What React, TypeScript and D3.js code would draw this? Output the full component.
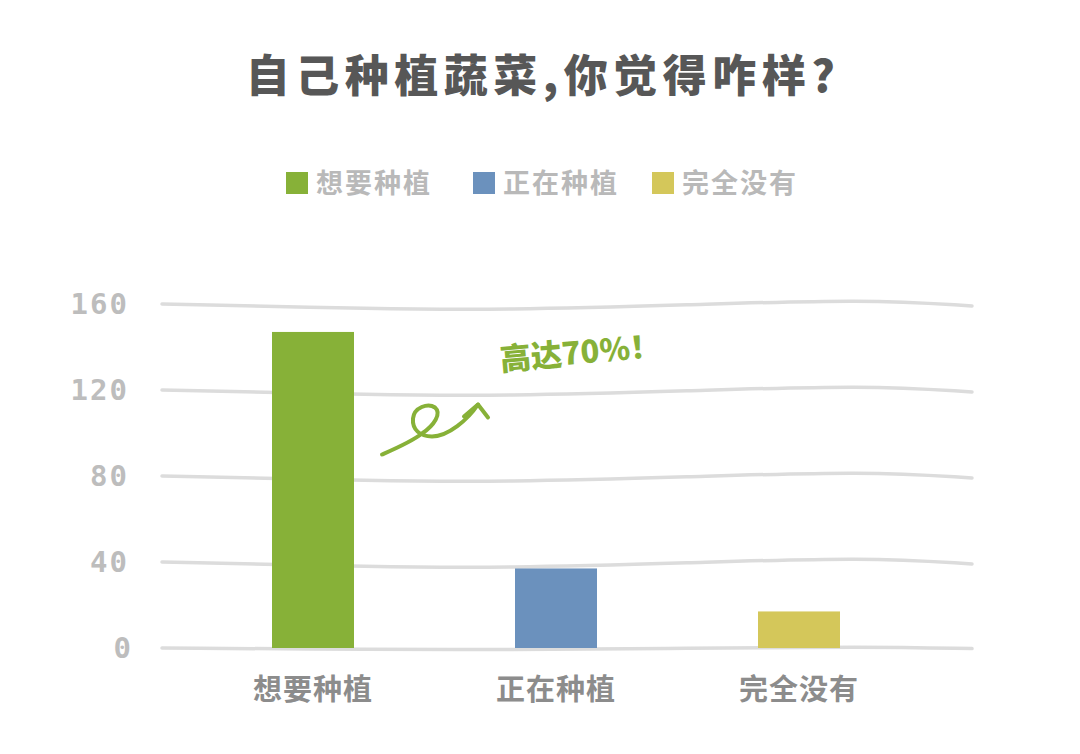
import * as d3 from 'd3';

const title = '自己种植蔬菜,你觉得咋样?';
const categories = ['想要种植', '正在种植', '完全没有'];
const counts = [147, 37, 17];
const colors = ['#87b138', '#6b91bd', '#d4c75a'];
const yTicks = [0, 40, 80, 120, 160];
const note = '高达70%！';

// hand-drawn wobble of each gridline: [fraction along width, vertical offset]
const wobble: [number, number][] = [
  [0, 0], [0.27, 5], [0.42, 6], [0.65, 1], [0.87, -5], [1, 2],
];

const W = 1080;
const H = 754;
const margin = { top: 304, right: 108, bottom: 106, left: 162 };

const App = () => {
  const plotW = W - margin.left - margin.right;

  const x = d3.scalePoint<string>()
    .domain(categories)
    .range([313, 799]);

  const y = d3.scaleLinear()
    .domain([0, 160])
    .range([H - margin.bottom, margin.top]);

  const barW = 82;

  const line = d3.line<[number, number]>()
    .x(d => d[0])
    .y(d => d[1])
    .curve(d3.curveBasis);

  const gridPath = (v: number) => {
    const k = v === 0 ? 0.3 : 1;
    return line(wobble.map(([f, o]) => [margin.left + f * plotW, y(v) + o * k]));
  };

  // annotation anchored to the first bar
  const ax = (x(categories[0]) ?? 0) + barW / 2 + 28;
  const ay = y(90);
  const arrow = `M${ax},${ay} C${ax + 16},${ay - 7} ${ax + 30},${ay - 13} ${ax + 40},${ay - 21}
    C${ax + 52},${ay - 29} ${ax + 60},${ay - 41} ${ax + 53},${ay - 47}
    C${ax + 46},${ay - 52} ${ax + 32},${ay - 47} ${ax + 31},${ay - 36}
    C${ax + 30},${ay - 25} ${ax + 38},${ay - 18} ${ax + 50},${ay - 18}
    C${ax + 66},${ay - 18} ${ax + 86},${ay - 35} ${ax + 96},${ay - 50}`;
  const head = `M${ax + 82},${ay - 38} L${ax + 96},${ay - 50} L${ax + 106},${ay - 37}`;

  const legendX = [286, 473, 652];

  return (
    <svg
      width={W}
      height={H}
      style={{ position: 'absolute', left: 0, top: 0, background: '#fff' }}
      fontFamily="'Noto Sans CJK SC', sans-serif"
    >
      <text
        x={W / 2 + 3}
        y={92}
        textAnchor="middle"
        fontSize={44}
        fontWeight={900}
        fill="#575757"
        letterSpacing={5.5}
      >
        {title}
      </text>

      {/* legend */}
      {categories.map((c, i) => (
        <g key={c} transform={`translate(${legendX[i]},172)`}>
          <rect width={22} height={22} fill={colors[i]} />
          <text x={30} y={21} fontSize={27} fontWeight={700} fill="#b9b9b9" letterSpacing={2}>
            {c}
          </text>
        </g>
      ))}

      {/* grid + y labels */}
      {yTicks.map(t => (
        <g key={t}>
          <path d={gridPath(t) ?? ''} fill="none" stroke="#dcdcdc" strokeWidth={3.5} strokeLinecap="round" />
          <text
            x={t === 0 ? 133 : 129}
            y={y(t)}
            dy="0.35em"
            textAnchor="end"
            fontSize={29}
            fontWeight={700}
            fontFamily="'DejaVu Sans Mono', monospace"
            fill="#bdbdbd"
            letterSpacing={2}
          >
            {t}
          </text>
        </g>
      ))}

      {/* bars */}
      {categories.map((c, i) => (
        <rect
          key={c}
          x={(x(c) ?? 0) - barW / 2}
          y={y(counts[i])}
          width={barW}
          height={y(0) - y(counts[i])}
          fill={colors[i]}
        />
      ))}

      {/* category labels */}
      {categories.map(c => (
        <text
          key={c}
          x={x(c)}
          y={700}
          textAnchor="middle"
          fontSize={29}
          fontWeight={700}
          fill="#8c8c8c"
          letterSpacing={1}
        >
          {c}
        </text>
      ))}

      {/* annotation */}
      <path d={arrow} fill="none" stroke="#87b138" strokeWidth={4} strokeLinecap="round" />
      <path d={head} fill="none" stroke="#87b138" strokeWidth={4} strokeLinecap="round" strokeLinejoin="round" />
      <text
        transform={`translate(${ax + 119},${y(129)}) rotate(-5)`}
        fontSize={31}
        fontWeight={900}
        fill="#87b138"
      >
        {note}
      </text>
    </svg>
  );
};

export default App;
